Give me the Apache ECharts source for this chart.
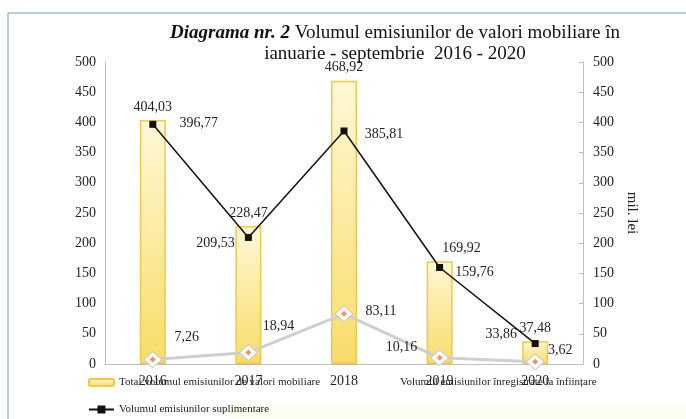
<!DOCTYPE html>
<html>
<head>
<meta charset="utf-8">
<script src="https://cdn.jsdelivr.net/npm/echarts@6/dist/echarts.min.js"></script>
<style>
  html, body { margin: 0; padding: 0; background: #fff; }
  #chart { width: 686px; height: 419px; }
</style>
</head>
<body>
<div id="chart"></div>
<script>
// date din diagrama
const years = ['2016', '2017', '2018', '2019', '2020'];
const totalVol = [404.03, 228.47, 468.92, 169.92, 37.48];
const suplimVol = [396.77, 209.53, 385.81, 159.76, 33.86];
const infiintVol = [7.26, 18.94, 83.11, 10.16, 3.62];

// deplasari etichete (px)
const totalLabelDx = [0, 0, 0, 22, 0];
const suplimLabelOff = [[46, -1], [-33, 6], [40, 3], [35, 5], [-34, -9]];
const infiintLabelOff = [[34, -22], [30, -26], [37, -2], [-38, -11], [25, -11]];

const FONT = '"Liberation Serif", "DejaVu Serif", serif';
const fmt = v => v.toFixed(2).replace('.', ',');
const NAME_TOTAL = 'Total volumul emisiunilor de valori mobiliare';
const NAME_INF = 'Volumul emisiunilor înregistrate la înființare';
const NAME_SUP = 'Volumul emisiunilor suplimentare';

const chart = echarts.init(document.getElementById('chart'));

const labelBase = { show: true, fontFamily: FONT, fontSize: 14, color: '#222', formatter: p => fmt(p.value) };
const legendText = { fontFamily: FONT, fontSize: 11, color: '#222' };

const option = {
  backgroundColor: '#fff',
  animation: false,
  textStyle: { fontFamily: FONT },
  title: {
    left: 390,
    top: 18,
    textAlign: 'center',
    text: '{b|Diagrama nr. 2} Volumul emisiunilor de valori mobiliare în\nianuarie - septembrie  2016 - 2020',
    textStyle: {
      fontFamily: FONT, fontSize: 19, fontWeight: 'normal', color: '#111', lineHeight: 21,
      rich: { b: { fontFamily: FONT, fontSize: 19, fontWeight: 'bold', fontStyle: 'italic', color: '#111' } }
    }
  },
  graphic: [
    { type: 'rect', shape: { x: 230, y: 406, width: 456, height: 13 }, style: { fill: '#fefef0' }, silent: true },
    { type: 'line', shape: { x1: 8, y1: 13, x2: 686, y2: 13 }, style: { stroke: '#a3bcdb', lineWidth: 1.5 }, silent: true },
    { type: 'line', shape: { x1: 8, y1: 13, x2: 8, y2: 419 }, style: { stroke: '#a3bcdb', lineWidth: 1.5 }, silent: true }
  ],
  grid: { left: 105, right: 103, top: 62, bottom: 55 },
  legend: [
    {
      left: 88, top: 377, padding: 0, itemWidth: 25, itemHeight: 7, itemGap: 4,
      textStyle: legendText,
      data: [NAME_TOTAL]
    },
    {
      left: 370, top: 377, padding: 0, itemWidth: 25, itemHeight: 7,
      textStyle: legendText,
      data: [{ name: NAME_INF, icon: 'none' }]
    },
    {
      left: 88, top: 404, padding: 0, itemWidth: 25, itemHeight: 10,
      textStyle: legendText,
      data: [NAME_SUP]
    }
  ],
  xAxis: {
    type: 'category',
    data: years,
    axisLine: { lineStyle: { color: '#bfbfbf' } },
    axisTick: { show: false },
    axisLabel: { fontFamily: FONT, fontSize: 14, color: '#222', margin: 10 }
  },
  yAxis: [
    {
      type: 'value', min: 0, max: 500, interval: 50,
      axisLine: { show: true, lineStyle: { color: '#bfbfbf' } },
      axisTick: { show: false },
      splitLine: { show: false },
      axisLabel: { fontFamily: FONT, fontSize: 14, color: '#222', margin: 9 }
    },
    {
      type: 'value', min: 0, max: 500, interval: 50, position: 'right',
      name: 'mil. lei', nameLocation: 'middle', nameGap: 38, nameRotate: -90,
      nameTextStyle: { fontFamily: FONT, fontSize: 15, color: '#222' },
      axisLine: { show: true, lineStyle: { color: '#bfbfbf' } },
      axisTick: { show: true, inside: true, length: 4, lineStyle: { color: '#bfbfbf' } },
      splitLine: { show: false },
      axisLabel: { fontFamily: FONT, fontSize: 14, color: '#222', margin: 10 }
    }
  ],
  series: [
    {
      name: NAME_TOTAL,
      type: 'bar',
      barWidth: 26,
      z: 1,
      itemStyle: {
        color: new echarts.graphic.LinearGradient(0, 0, 0, 1, [
          { offset: 0, color: '#fff8d6' },
          { offset: 1, color: '#f8dc68' }
        ]),
        borderColor: '#f0c84a',
        borderWidth: 1.5
      },
      data: totalVol.map((v, i) => ({
        value: v,
        label: { ...labelBase, position: 'top', distance: 6, offset: [totalLabelDx[i], 0] }
      }))
    },
    {
      name: NAME_INF,
      type: 'line',
      z: 3,
      symbol: 'diamond',
      symbolSize: [18, 16],
      lineStyle: { color: '#cfcfcf', width: 3 },
      itemStyle: { color: '#ffffff', borderColor: '#c8c8c8', borderWidth: 1 },
      data: infiintVol.map((v, i) => ({
        value: v,
        label: { ...labelBase, position: 'inside', align: 'center', verticalAlign: 'middle', offset: infiintLabelOff[i] }
      }))
    },
    {
      name: 'inf-dot',
      type: 'scatter',
      z: 4,
      silent: true,
      symbol: 'diamond',
      symbolSize: 6,
      itemStyle: { color: '#e8773a' },
      data: infiintVol
    },
    {
      name: NAME_SUP,
      type: 'line',
      z: 5,
      symbol: 'rect',
      symbolSize: 7,
      lineStyle: { color: '#111', width: 1.5 },
      itemStyle: { color: '#111' },
      data: suplimVol.map((v, i) => ({
        value: v,
        label: { ...labelBase, position: 'inside', align: 'center', verticalAlign: 'middle', offset: suplimLabelOff[i] }
      }))
    }
  ]
};

chart.setOption(option);
</script>
</body>
</html>
